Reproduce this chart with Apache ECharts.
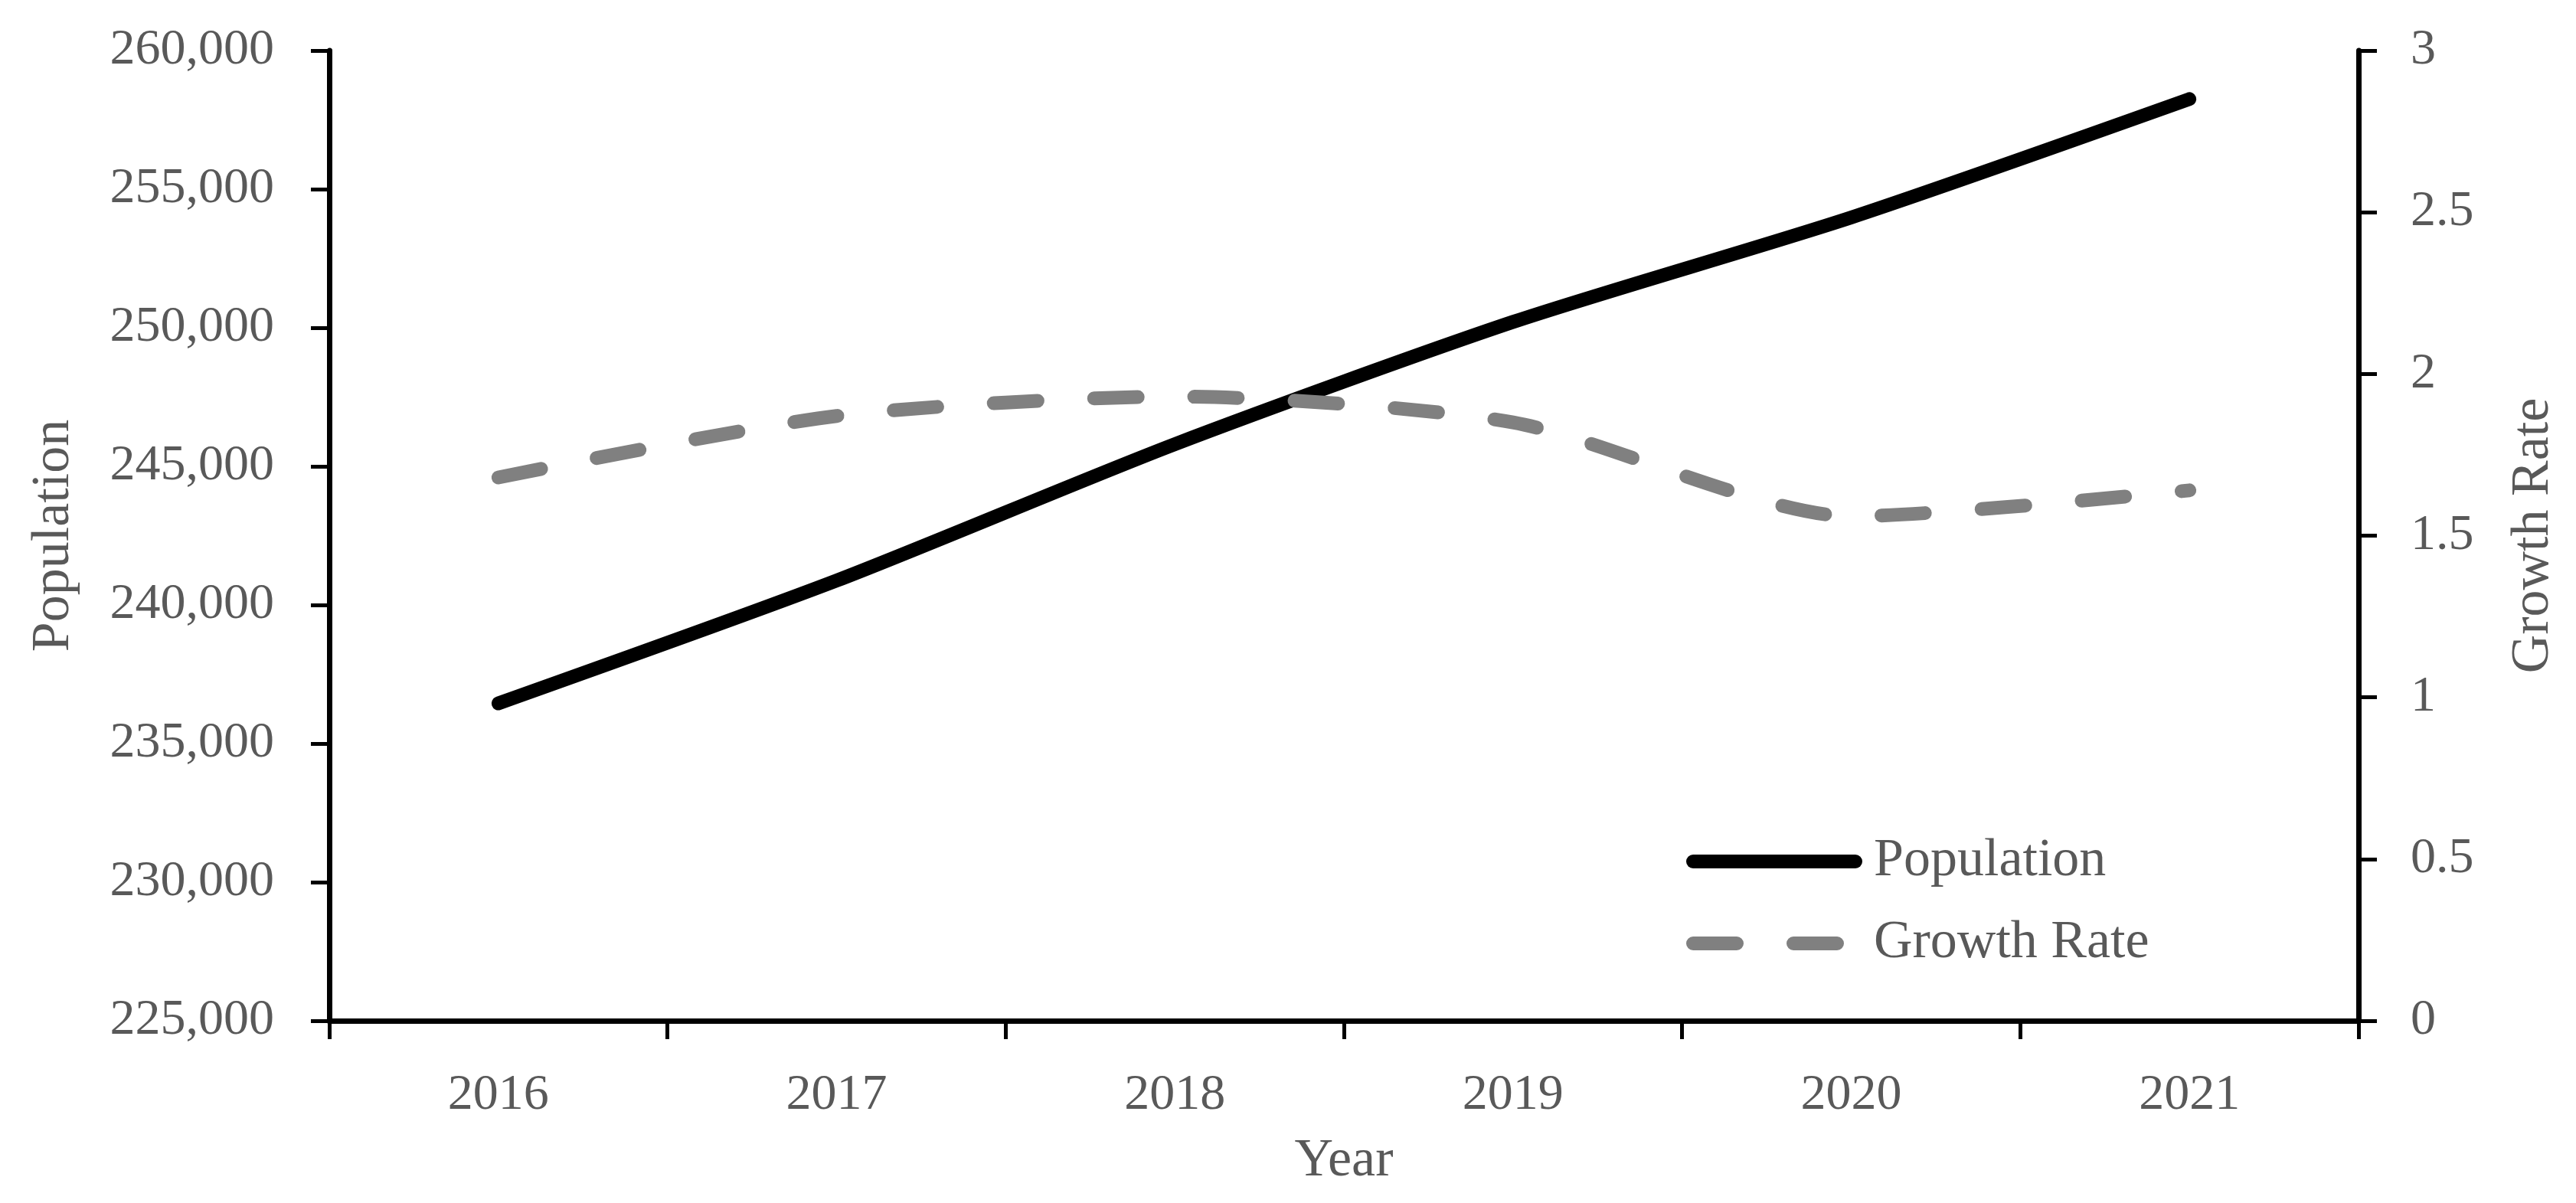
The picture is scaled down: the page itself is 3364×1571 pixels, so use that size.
<!DOCTYPE html>
<html>
<head>
<meta charset="utf-8">
<script src="https://cdn.jsdelivr.net/npm/echarts@6/dist/echarts.min.js"></script>
<style>
html,body{margin:0;padding:0;background:#fff;}
#chart{width:3364px;height:1571px;}
</style>
</head>
<body>
<div id="chart"></div>
<script>
const years = ['2016', '2017', '2018', '2019', '2020', '2021'];
const population = [236450, 240880, 245800, 250210, 253980, 258250];
const growthRate = [1.68, 1.87, 1.93, 1.85, 1.56, 1.64];
const seriesNames = ['Population', 'Growth Rate'];
const axisNames = { x: 'Year', left: 'Population', right: 'Growth Rate' };

const FONT = '"Liberation Serif", "Times New Roman", serif';
const TXT = '#595959';

const chart = echarts.init(document.getElementById('chart'), null, { renderer: 'canvas' });
chart.setOption({
  backgroundColor: '#ffffff',
  animation: false,
  grid: { left: 430, right: 284, top: 66, bottom: 238, containLabel: false },
  legend: {
    orient: 'vertical',
    left: 2197,
    top: 1085,
    itemWidth: 212,
    itemHeight: 18,
    itemGap: 37,
    data: seriesNames,
    itemStyle: { opacity: 0 },
    lineStyle: { width: 18, cap: 'round' },
    textStyle: { fontFamily: FONT, fontSize: 70, color: TXT, lineHeight: 70, padding: [0, 0, 0, 19] }
  },
  xAxis: {
    type: 'category',
    data: years,
    boundaryGap: true,
    name: axisNames.x,
    nameLocation: 'middle',
    nameGap: 149,
    nameTextStyle: { fontFamily: FONT, fontSize: 70, color: TXT },
    axisLine: { lineStyle: { color: '#000', width: 7 } },
    axisTick: { show: true, length: 24, lineStyle: { color: '#000', width: 5 } },
    axisLabel: { fontFamily: FONT, fontSize: 66, color: TXT, margin: 65 },
    splitLine: { show: false }
  },
  yAxis: [
    {
      type: 'value',
      position: 'left',
      min: 225000,
      max: 260000,
      interval: 5000,
      name: axisNames.left,
      nameLocation: 'middle',
      nameGap: 324,
      nameTextStyle: { fontFamily: FONT, fontSize: 70, color: TXT },
      axisLine: { show: true, lineStyle: { color: '#000', width: 7 } },
      axisTick: { show: true, length: 24, lineStyle: { color: '#000', width: 5 } },
      axisLabel: {
        fontFamily: FONT, fontSize: 66, color: TXT, margin: 72,
        formatter: v => v.toLocaleString('en-US')
      },
      splitLine: { show: false }
    },
    {
      type: 'value',
      position: 'right',
      min: 0,
      max: 3,
      interval: 0.5,
      name: axisNames.right,
      nameLocation: 'middle',
      nameGap: 194,
      nameTextStyle: { fontFamily: FONT, fontSize: 70, color: TXT },
      axisLine: { show: true, lineStyle: { color: '#000', width: 7 } },
      axisTick: { show: true, length: 24, lineStyle: { color: '#000', width: 5 } },
      axisLabel: { fontFamily: FONT, fontSize: 66, color: TXT, margin: 68 },
      splitLine: { show: false }
    }
  ],
  series: [
    {
      name: seriesNames[0],
      type: 'line',
      yAxisIndex: 0,
      data: population,
      symbol: 'none',
      smooth: 0.25,
      lineStyle: { color: '#000000', width: 18, cap: 'round', join: 'round' },
      itemStyle: { color: '#000000' }
    },
    {
      name: seriesNames[1],
      type: 'line',
      yAxisIndex: 1,
      data: growthRate,
      symbol: 'none',
      smooth: 0.25,
      lineStyle: { color: '#808080', width: 18, type: [57, 74], cap: 'round', join: 'round' },
      itemStyle: { color: '#808080' }
    }
  ]
});
</script>
</body>
</html>
